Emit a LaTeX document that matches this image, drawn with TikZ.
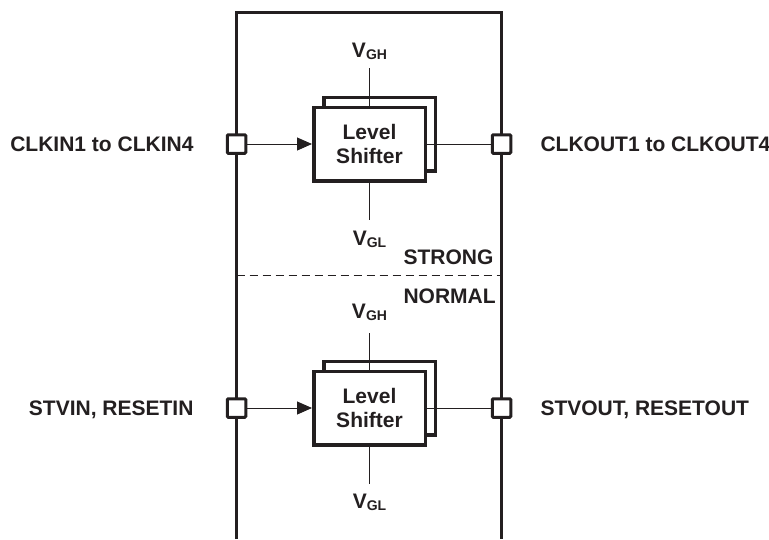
\documentclass[tikz,border=0pt]{standalone}
\usepackage{fontspec}
\setmainfont{Liberation Sans}
\usepackage{xcolor}
\usepackage{tikz}
\usetikzlibrary{arrows.meta, positioning, calc}
\definecolor{inkgray}{HTML}{231F20}
\newcommand{\railsig}[2]{#1\raisebox{-2.5pt}{\fontsize{14}{14}\selectfont #2}}

\begin{document}
\begin{tikzpicture}[
    x=1pt, y=-1pt,
    every node/.style={font=\fontsize{21}{24}\selectfont\bfseries, text=inkgray},
    rail/.style={draw=inkgray, line width=3.3pt},
    wire/.style={draw=inkgray, line width=1pt},
    terminal/.style={draw=inkgray, fill=white, rectangle, line width=3pt, minimum size=18.5pt, inner sep=0pt, rounded corners=1pt},
    shifter/.style={draw=inkgray, fill=white, rectangle, line width=3.5pt, minimum width=111.5pt, minimum height=73.5pt, align=center, inner sep=0pt}
]
    \useasboundingbox (0,0) rectangle (769,539);

    % Frame
    \coordinate (frameBL) at (236.5,539);
    \coordinate (frameTR) at (501.5,12.5);
    \coordinate (frameBR) at (501.5,539);
    \draw[rail] (frameBL) |- (frameTR) -- (frameBR);

    % Strong / normal boundary
    \coordinate (splitL) at (236.5,275);
    \coordinate (splitR) at (501.5,275);
    \draw[wire, dash pattern=on 8pt off 5pt] (splitL) -- (splitR);
    \node[anchor=base west] (strong) at (400,264) {STRONG};
    \node[anchor=base west] (normal) at (400,303) {NORMAL};

    % Clock stage
    \node[shifter] (back1) at (379.5,134) {};
    \node[shifter] (shift1) at (369.5,144) {Level\\Shifter};
    \node[terminal] (clkin) at (236.5,144) {};
    \node[terminal] (clkout) at (501.5,144) {};
    \node[anchor=base east] (clkinlbl) at (197,151) {CLKIN1 to CLKIN4};
    \node[anchor=base west] (clkoutlbl) at (537,151) {CLKOUT1 to CLKOUT4};
    \node[anchor=base] (vgh1) at (369.5,57) {\railsig{V}{GH}};
    \node[anchor=base] (vgl1) at (369.5,245) {\railsig{V}{GL}};
    \coordinate (vgh1end) at (369.5,68);
    \coordinate (vgl1end) at (369.5,220);
    \draw[wire, -{Triangle[length=15pt, width=13pt]}] (clkin) -- (shift1);
    \draw[wire] (shift1) -- (clkout);
    \draw[wire] (vgh1end) -- (shift1.north);
    \draw[wire] (shift1.south) -- (vgl1end);

    % Start / reset stage
    \node[shifter] (back2) at (379.5,398) {};
    \node[shifter] (shift2) at (369.5,408) {Level\\Shifter};
    \node[terminal] (stvin) at (236.5,408) {};
    \node[terminal] (stvout) at (501.5,408) {};
    \node[anchor=base east] (stvinlbl) at (197,415) {STVIN, RESETIN};
    \node[anchor=base west] (stvoutlbl) at (537,415) {STVOUT, RESETOUT};
    \node[anchor=base] (vgh2) at (369.5,318) {\railsig{V}{GH}};
    \node[anchor=base] (vgl2) at (369.5,508) {\railsig{V}{GL}};
    \coordinate (vgh2end) at (369.5,333);
    \coordinate (vgl2end) at (369.5,484);
    \draw[wire, -{Triangle[length=15pt, width=13pt]}] (stvin) -- (shift2);
    \draw[wire] (shift2) -- (stvout);
    \draw[wire] (vgh2end) -- (shift2.north);
    \draw[wire] (shift2.south) -- (vgl2end);

\end{tikzpicture}
\end{document}
